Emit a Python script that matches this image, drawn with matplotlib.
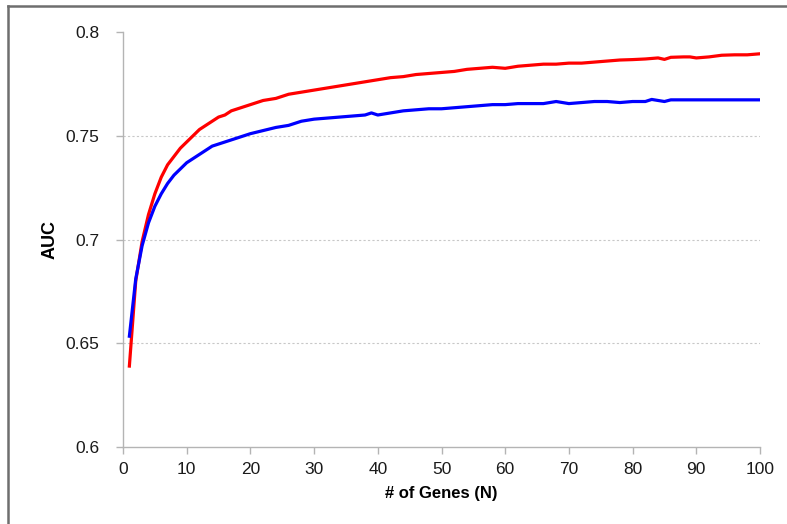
import matplotlib.pyplot as plt
from matplotlib.lines import Line2D

# number of genes and AUC
genes_red = [1, 2, 3, 4, 5, 6, 7, 8, 9, 10, 11, 12, 13, 14, 15, 16, 17, 18, 19, 20,
             22, 24, 26, 28, 30, 32, 34, 36, 38, 40, 42, 44, 46, 48, 50, 52, 54, 56, 58, 60,
             62, 64, 66, 68, 70, 72, 74, 76, 78, 80, 82, 84, 85, 86, 88, 89, 90, 92, 94, 96,
             98, 100]
auc_red = [0.639, 0.680, 0.699, 0.712, 0.722, 0.730, 0.736, 0.740, 0.744, 0.747,
           0.750, 0.753, 0.755, 0.757, 0.759, 0.760, 0.762, 0.763, 0.764, 0.765,
           0.767, 0.768, 0.770, 0.771, 0.772, 0.773, 0.774, 0.775, 0.776, 0.777,
           0.778, 0.7785, 0.7795, 0.780, 0.7805, 0.781, 0.782, 0.7825, 0.783, 0.7825,
           0.7835, 0.784, 0.7845, 0.7845, 0.785, 0.785, 0.7855, 0.786, 0.7865, 0.7867,
           0.787, 0.7875, 0.7868, 0.7878, 0.788, 0.788, 0.7875, 0.788, 0.7888, 0.789,
           0.789, 0.7895]

genes_blue = [1, 2, 3, 4, 5, 6, 7, 8, 9, 10, 11, 12, 13, 14, 15, 16, 17, 18, 19, 20,
              22, 24, 26, 28, 30, 32, 34, 36, 38, 39, 40, 42, 44, 46, 48, 50, 52, 54, 56, 58,
              60, 62, 64, 66, 68, 70, 72, 74, 76, 78, 80, 82, 83, 85, 86, 88, 90, 92, 94, 96,
              98, 100]
auc_blue = [0.6534, 0.681, 0.697, 0.708, 0.716, 0.722, 0.727, 0.731, 0.734, 0.737,
            0.739, 0.741, 0.743, 0.745, 0.746, 0.747, 0.748, 0.749, 0.750, 0.751,
            0.7525, 0.754, 0.755, 0.757, 0.758, 0.7585, 0.759, 0.7595, 0.760, 0.761,
            0.760, 0.761, 0.762, 0.7625, 0.763, 0.763, 0.7635, 0.764, 0.7645, 0.765,
            0.765, 0.7655, 0.7655, 0.7655, 0.7665, 0.7655, 0.766, 0.7665, 0.7665, 0.766,
            0.7665, 0.7665, 0.7675, 0.7665, 0.7673, 0.7673, 0.7673, 0.7673, 0.7673, 0.7673,
            0.7673, 0.7673]

x_ticks = [0, 10, 20, 30, 40, 50, 60, 70, 80, 90, 100]
y_ticks = [0.6, 0.65, 0.7, 0.75, 0.8]
y_ticklabels = ["0.6", "0.65", "0.7", "0.75", "0.8"]

plt.rcParams["font.family"] = ["Liberation Sans", "DejaVu Sans"]

fig = plt.figure(figsize=(7.87, 5.24), dpi=100)
ax = fig.add_axes([123/787, 1 - 447/524, (760 - 123)/787, (447 - 32)/524])

# gray frame round the picture (only left and top visible)
fig.add_artist(Line2D([8/787, 8/787], [0, 1 - 6/524], transform=fig.transFigure,
                      color="#6e6e6e", lw=1.8))
fig.add_artist(Line2D([8/787, 1], [1 - 6/524, 1 - 6/524], transform=fig.transFigure,
                      color="#6e6e6e", lw=1.8))

for v in [0.65, 0.7, 0.75]:
    ax.axhline(v, color="#c8c8c8", lw=0.8, ls=(0, (2, 2)), zorder=0)

ax.plot(genes_red, auc_red, color="#ff0000", lw=2.3, solid_joinstyle="round")
ax.plot(genes_blue, auc_blue, color="#0000ff", lw=2.3, solid_joinstyle="round")

ax.set_xlim(0, 100)
ax.set_ylim(0.6, 0.8)
ax.set_xticks(x_ticks)
ax.set_yticks(y_ticks)
ax.set_yticklabels(y_ticklabels)

for s in ["top", "right"]:
    ax.spines[s].set_visible(False)
for s in ["left", "bottom"]:
    ax.spines[s].set_color("#b4b4b4")
    ax.spines[s].set_linewidth(1.0)
ax.tick_params(direction="out", length=5, width=1, color="#b4b4b4",
               labelsize=12.5, labelcolor="#1a1a1a")
ax.tick_params(axis="y", pad=12)
ax.tick_params(axis="x", pad=6)

ax.set_xlabel("# of Genes (N)", fontsize=12, fontweight="bold", labelpad=6)
ax.set_ylabel("AUC", fontsize=13, fontweight="bold", labelpad=5,
              family=["Liberation Sans Narrow", "Liberation Sans"])

fig.savefig("out.png", dpi=100)
